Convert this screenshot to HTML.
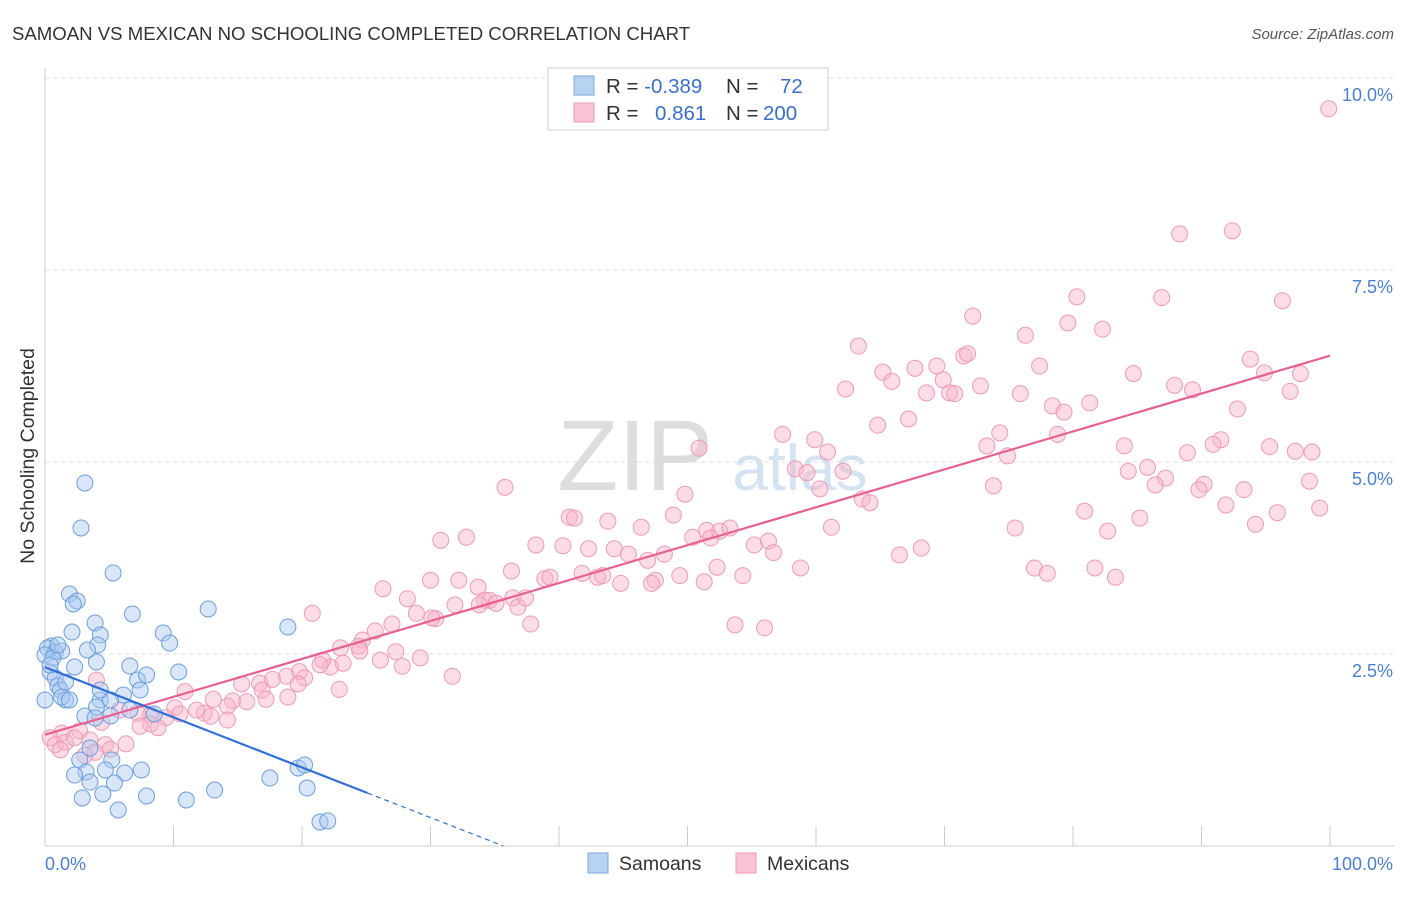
<!DOCTYPE html>
<html><head><meta charset="utf-8"><style>
body{margin:0;background:#fff;font-family:"Liberation Sans",sans-serif;}
svg text{font-family:"Liberation Sans",sans-serif;}
</style></head><body>
<svg width="1406" height="892" id="chart">
<text x="12" y="40" font-size="18.6" fill="#333">SAMOAN VS MEXICAN NO SCHOOLING COMPLETED CORRELATION CHART</text>
<text x="1394" y="39" font-size="15" fill="#555" font-style="italic" text-anchor="end">Source: ZipAtlas.com</text>
<text x="635" y="490" font-size="100" fill="#ddd" font-family="Liberation Serif" text-anchor="middle">ZIP</text>
<text x="800" y="490" font-size="64" fill="#d5e2f2" text-anchor="middle">atlas</text>
<text transform="translate(34,456) rotate(-90)" font-size="19.5" fill="#333" text-anchor="middle">No Schooling Completed</text>
<g id="grid"></g><g id="marks"></g>
<g>
<rect x="548" y="68" width="280" height="62" fill="#fff" stroke="#ccc"/>
<rect x="574" y="76" width="20" height="19" fill="#b8d2f2" stroke="#7aa6e0"/>
<rect x="574" y="103" width="20" height="19" fill="#f8c4d4" stroke="#ee9ab5"/>
<text x="606" y="93" font-size="20.5" fill="#333">R = <tspan fill="#3a6fd0">-0.389</tspan></text>
<text x="726" y="93" font-size="20.5" fill="#333">N = <tspan x="780" fill="#3a6fd0">72</tspan></text>
<text x="606" y="120" font-size="20.5" fill="#333">R = <tspan x="655" fill="#3a6fd0">0.861</tspan></text>
<text x="726" y="120" font-size="20.5" fill="#333">N = <tspan x="763" fill="#3a6fd0">200</tspan></text>
</g>
<g>
<rect x="588" y="853" width="20" height="20" fill="#b8d2f2" stroke="#7aa6e0"/>
<text x="619" y="870" font-size="19.5" fill="#333">Samoans</text>
<rect x="736" y="853" width="20" height="20" fill="#f8c4d4" stroke="#ee9ab5"/>
<text x="767" y="870" font-size="19.5" fill="#333">Mexicans</text>
</g>
</svg>
<script>
const yTicks=[2.5,5.0,7.5,10.0];
const xTickVals=[0,10,20,30,40,50,60,70,80,90,100];
const samoanX=[3.1,2.8,5.3,1.9,2.5,2.2,6.8,12.7,18.9,3.9,9.2,9.7,4.3,2.1,0.5,0.2,0.8,1.3,4.1,0,0.6,4.0,6.6,2.3,0.4,0.8,7.2,7.9,10.4,1.0,1.2,1.6,1.3,6.1,4.3,4.0,6.6,8.5,3.1,5.1,3.9,3.5,2.7,5.2,4.7,3.2,2.3,6.2,7.5,5.4,3.5,19.7,20.2,17.5,20.4,13.2,7.9,11.0,2.9,4.5,5.7,21.4,22.0,1.9,0.4,1.0,1.6,5.1,0,3.3,7.4,4.3];
const samoanY=[4.727,4.141,3.555,3.281,3.190,3.151,3.021,3.086,2.852,2.904,2.773,2.643,2.747,2.786,2.604,2.578,2.526,2.539,2.617,2.487,2.448,2.396,2.344,2.331,2.266,2.188,2.161,2.227,2.266,2.083,2.031,1.901,1.940,1.966,1.901,1.810,1.771,1.719,1.693,1.693,1.667,1.276,1.120,1.120,0.990,0.964,0.924,0.951,0.990,0.820,0.833,1.016,1.055,0.885,0.755,0.729,0.651,0.599,0.625,0.677,0.469,0.313,0.326,1.901,2.357,2.617,2.135,1.901,1.901,2.552,2.031,2.031];
const mexX=[
99.9,88.3,92.4,80.3,86.9,96.3,72.2,79.6,82.3,76.3,
63.3,71.5,71.8,65.2,67.7,69.4,65.9,77.4,84.7,93.8,
94.9,97.7,69.9,72.8,87.9,89.3,62.3,68.6,70.4,70.8,
75.9,96.9,78.4,79.3,81.3,92.8,67.2,64.8,74.3,78.8,
57.4,59.9,91.5,90.9,84.0,88.9,95.3,98.6,97.3,73.3,
74.9,50.9,60.9,58.4,59.3,62.1,85.8,84.3,90.2,87.2,
86.4,98.4,73.8,60.3,35.8,49.8,63.6,64.2,93.3,89.8,
91.9,80.9,85.2,95.9,99.2,94.2,82.7,75.5,61.2,48.9,
40.8,41.2,43.8,46.4,51.5,52.5,53.3,51.8,50.4,30.8,
32.8,38.2,40.3,42.3,44.3,45.4,48.2,46.9,55.2,56.3,
56.7,66.5,68.2,36.3,38.9,41.8,43.0,43.4,39.3,44.8,
47.5,47.2,49.4,51.3,54.3,58.8,52.3,77.0,78.0,81.7,
83.3,30.0,32.2,33.7,26.3,28.2,34.2,34.6,36.4,35.1,
36.8,37.4,37.8,33.8,31.9,28.9,20.8,30.4,30.1,27.0,
25.7,24.7,24.4,23.0,24.5,23.2,22.2,29.2,27.3,26.1,
27.8,31.7,21.6,21.4,19.8,18.8,20.2,19.7,17.7,15.3,
16.7,16.9,18.9,22.9,14.6,13.1,14.2,15.7,17.2,10.9,
10.1,10.5,12.4,11.8,12.9,14.2,8.2,9.4,5.8,7.2,
8.2,8.8,7.4,4.4,4.0,2.7,1.3,0.4,0.8,1.6,
2.3,3.5,4.7,5.1,6.3,3.9,3.1,1.2,53.7,56.0];
const mexY=[
9.60,7.97,8.01,7.15,7.14,7.10,6.90,6.81,6.73,6.65,
6.51,6.38,6.41,6.17,6.22,6.25,6.05,6.25,6.15,6.34,
6.16,6.15,6.07,5.99,6.00,5.94,5.95,5.90,5.90,5.89,
5.89,5.92,5.73,5.65,5.77,5.69,5.56,5.48,5.38,5.36,
5.36,5.29,5.29,5.23,5.21,5.12,5.20,5.13,5.14,5.21,
5.08,5.18,5.13,4.91,4.86,4.88,4.93,4.88,4.71,4.79,
4.70,4.75,4.69,4.65,4.67,4.58,4.52,4.47,4.64,4.64,
4.44,4.36,4.27,4.34,4.40,4.19,4.10,4.14,4.15,4.31,
4.28,4.27,4.23,4.15,4.11,4.10,4.14,4.01,4.02,3.98,
4.02,3.92,3.91,3.87,3.87,3.80,3.80,3.72,3.92,3.97,
3.82,3.79,3.88,3.58,3.48,3.55,3.50,3.52,3.50,3.42,
3.46,3.42,3.52,3.44,3.52,3.62,3.63,3.62,3.55,3.62,
3.50,3.46,3.46,3.37,3.35,3.22,3.20,3.20,3.23,3.16,
3.11,3.23,2.89,3.14,3.14,3.03,3.03,2.96,2.97,2.89,
2.80,2.68,2.60,2.58,2.54,2.38,2.33,2.45,2.53,2.42,
2.34,2.21,2.42,2.36,2.27,2.21,2.19,2.11,2.17,2.11,
2.12,2.03,1.94,2.04,1.89,1.91,1.82,1.88,1.91,2.01,
1.80,1.72,1.73,1.77,1.69,1.64,1.71,1.67,1.77,1.73,
1.59,1.54,1.56,1.61,2.16,1.50,1.47,1.41,1.32,1.35,
1.41,1.38,1.32,1.26,1.33,1.22,1.18,1.25,2.88,2.84];
const sx=v=>45+v*12.85, sy=v=>846-v*76.8;
const NS='http://www.w3.org/2000/svg';
const grid=document.getElementById('grid'), marks=document.getElementById('marks');
function mk(tag,attrs,parent){const e=document.createElementNS(NS,tag);for(const k in attrs)e.setAttribute(k,attrs[k]);parent.appendChild(e);return e;}
yTicks.forEach(t=>{
 const l=mk('line',{x1:45,x2:1394,y1:sy(t),y2:sy(t),stroke:'#ddd','stroke-dasharray':'4,4'},grid);
 
 
 const tx=mk('text',{x:1393,y:sy(t)+23,'font-size':18,fill:'#4a7fd4','text-anchor':'end'},grid);
 tx.textContent=t.toFixed(1)+'%';
 
 
});
const ax=mk('line',{x1:45,x2:1394,y1:846,y2:846,stroke:'#ccc'},grid);


const ay=mk('line',{x1:45,x2:45,y1:68,y2:846,stroke:'#ccc'},grid);


xTickVals.forEach(t=>{const l=mk('line',{x1:sx(t),x2:sx(t),y1:826,y2:846,stroke:'#ccc'},grid);
 
 });
const x0=mk('text',{x:45,y:870,'font-size':18,fill:'#4a7fd4'},grid);x0.textContent='0.0%';


const x1=mk('text',{x:1393,y:870,'font-size':18,fill:'#4a7fd4','text-anchor':'end'},grid);x1.textContent='100.0%';


mexX.forEach((v,i)=>{const c=mk('circle',{cx:sx(v),cy:sy(mexY[i]),r:8,fill:'rgba(248,180,200,0.45)',stroke:'#ee9ab5','stroke-width':1},marks);
 
 });
samoanX.forEach((v,i)=>{const c=mk('circle',{cx:sx(v),cy:sy(samoanY[i]),r:8,fill:'rgba(170,200,240,0.45)',stroke:'#6a9ee0','stroke-width':1},marks);
 
 });
function fit(X,Y){const n=X.length;let mx=0,my=0;X.forEach((v,i)=>{mx+=v;my+=Y[i];});mx/=n;my/=n;let a=0,b=0;X.forEach((v,i)=>{a+=(v-mx)*(Y[i]-my);b+=(v-mx)*(v-mx);});const s=a/b;return [s,my-s*mx];}
const [ms,mi]=fit(mexX,mexY);
const pl=mk('line',{x1:sx(0),y1:sy(mi),x2:sx(100),y2:sy(mi+ms*100),stroke:'#e8608e','stroke-width':2.2},marks);


const [ss,si]=fit(samoanX,samoanY);
const bl=mk('line',{x1:sx(0),y1:sy(si),x2:sx(25.1),y2:sy(si+ss*25.1),stroke:'#2f6fd8','stroke-width':2.2},marks);


const xe=Math.min(100,-si/ss);
const bd=mk('line',{x1:sx(25.1),y1:sy(si+ss*25.1),x2:sx(xe),y2:sy(si+ss*xe),stroke:'#2f6fd8','stroke-width':1.2,'stroke-dasharray':'5,4'},marks);


</script>
</body></html>
